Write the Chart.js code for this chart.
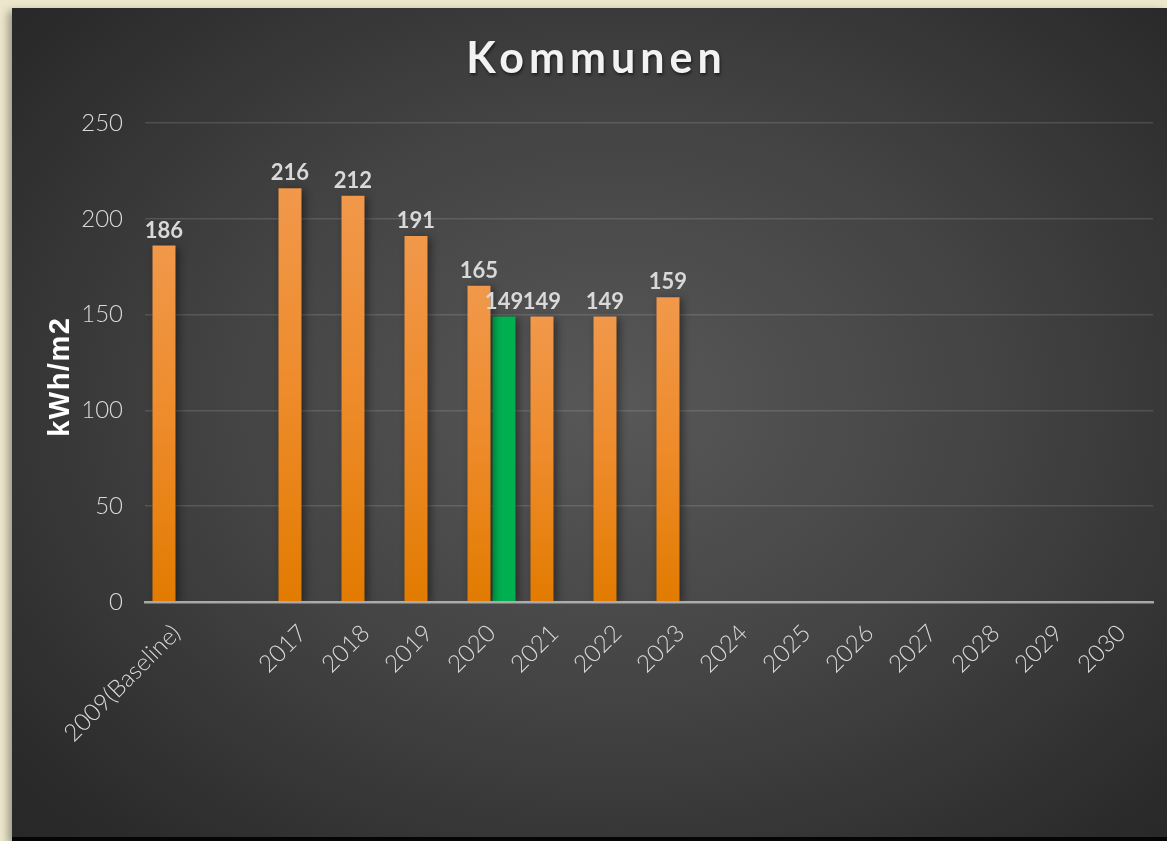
<!DOCTYPE html>
<html>
<head>
<meta charset="utf-8">
<script src="https://cdn.jsdelivr.net/npm/chart.js@4"></script>
<style>
  html, body { margin: 0; padding: 0; }
  body { width: 1167px; height: 841px; background: #ede8cc; overflow: hidden; position: relative; }
  #card {
    position: absolute; left: 12px; top: 8px; width: 1155px; height: 829px;
    background: radial-gradient(ellipse 75% 80% at 52% 48%, #585858 0%, #434343 45%, #2b2b2b 85%, #262626 100%);
    border-bottom: 4px solid #050505;
    box-shadow: -4px 3px 8px rgba(0,0,0,0.35);
  }
  #myChart { display: block; }
</style>
</head>
<body>
<div id="card"><canvas id="myChart" width="1155" height="829"></canvas></div>
<script>
// categories (empty slot between baseline and 2017)
var years = ["2009(Baseline)", "", "2017", "2018", "2019", "2020", "2021", "2022", "2023",
             "2024", "2025", "2026", "2027", "2028", "2029", "2030"];
var kommunen = [186, null, 216, 212, 191, 165, 149, 149, 159, null, null, null, null, null, null, null];
var target = [null, null, null, null, null, 149, null, null, null, null, null, null, null, null, null, null];
var yTicks = [0, 50, 100, 150, 200, 250];
var chartTitle = "Kommunen";
var yTitle = "kWh/m2";

var labelColor = '#d9d9d9';

function orangeFill(c) {
    var chart = c.chart;
    if (!chart.chartArea || !c.parsed || c.parsed.y == null) return '#e88a2e';
    var y = chart.scales.y;
    var top = y.getPixelForValue(c.parsed.y), base = y.getPixelForValue(0);
    var g = chart.ctx.createLinearGradient(0, top, 0, base);
    g.addColorStop(0, '#f1984b');
    g.addColorStop(0.5, '#ee8b2a');
    g.addColorStop(1, '#e27b00');
    return g;
}

// draws spaced text centred on x (letterSpacing adds a trailing gap, take it off)
function spacedText(ctx, txt, x, y, spacing) {
    ctx.letterSpacing = spacing + 'px';
    var w = ctx.measureText(txt).width - spacing;
    ctx.textAlign = 'left';
    ctx.fillText(txt, x - w / 2, y);
    ctx.letterSpacing = '0px';
}

var barBits = {
    id: 'barBits',
    beforeDatasetsDraw: function(chart) {
        var ctx = chart.ctx;
        ctx.save();
        ctx.shadowColor = 'rgba(0,0,0,0.45)';
        ctx.shadowBlur = 8;
        ctx.shadowOffsetX = 3;
        ctx.shadowOffsetY = 2;
    },
    afterDatasetsDraw: function(chart) {
        var ctx = chart.ctx;
        ctx.restore();
        ctx.save();
        ctx.font = 'bold 22px Lato, "DejaVu Sans", sans-serif';
        ctx.fillStyle = labelColor;
        ctx.textAlign = 'center';
        ctx.textBaseline = 'alphabetic';
        chart.data.datasets.forEach(function(ds, i) {
            var meta = chart.getDatasetMeta(i);
            meta.data.forEach(function(bar, j) {
                var v = ds.data[j];
                if (v == null) return;
                ctx.fillText(String(v), bar.x, bar.y - 8);
            });
        });
        ctx.restore();
    },
    afterDraw: function(chart) {
        var ctx = chart.ctx;
        var area = chart.chartArea;
        // chart title
        ctx.save();
        ctx.font = 'bold 43px Lato, "DejaVu Sans", sans-serif';
        ctx.fillStyle = '#f2f2f2';
        ctx.textBaseline = 'alphabetic';
        ctx.shadowColor = 'rgba(0,0,0,0.55)';
        ctx.shadowBlur = 3;
        ctx.shadowOffsetX = 1;
        ctx.shadowOffsetY = 2;
        spacedText(ctx, chartTitle, 582, 65, 5);
        ctx.restore();
        // y axis title
        ctx.save();
        ctx.translate(49, (area.top + area.bottom) / 2 + 15);
        ctx.rotate(-Math.PI / 2);
        ctx.font = 'bold 29px "Liberation Sans", Arial, sans-serif';
        ctx.fillStyle = '#ffffff';
        ctx.textBaseline = 'middle';
        spacedText(ctx, yTitle, 0, 0, 1.5);
        ctx.restore();
    }
};

var ctx = document.getElementById("myChart").getContext("2d");
var chart = new Chart(ctx, {
    type: 'bar',
    data: {
        labels: years,
        datasets: [{
            label: "Kommunen",
            data: kommunen,
            backgroundColor: orangeFill,
            categoryPercentage: 0.794,
            barPercentage: 0.92
        }, {
            label: "Mål",
            data: target,
            backgroundColor: '#00b050',
            categoryPercentage: 0.794,
            barPercentage: 0.92
        }]
    },
    options: {
        responsive: false,
        animation: false,
        layout: { padding: { top: 115, right: 14, bottom: 0, left: 0 } },
        plugins: {
            legend: { display: false },
            tooltip: { enabled: false },
            title: { display: false }
        },
        scales: {
            x: {
                grid: { display: false, drawTicks: false },
                border: { display: true, color: 'rgba(200,200,200,0.75)', width: 2.5, z: 1 },
                ticks: {
                    color: labelColor,
                    font: { family: 'Lato, "DejaVu Sans", sans-serif', size: 24, weight: 300 },
                    minRotation: 45,
                    maxRotation: 45,
                    autoSkip: false,
                    padding: 17
                },
                afterFit: function(s) { s.height = 235; }
            },
            y: {
                min: 0,
                max: 250,
                afterBuildTicks: function(s) { s.ticks = yTicks.map(function(v) { return { value: v }; }); },
                grid: { color: 'rgba(255,255,255,0.13)', lineWidth: 1.5, drawTicks: false },
                border: { display: false },
                ticks: {
                    color: labelColor,
                    font: { family: 'Lato, "DejaVu Sans", sans-serif', size: 24, weight: 300 },
                    padding: 22
                },
                afterFit: function(s) { s.width = 133; }
            }
        }
    },
    plugins: [barBits]
});
</script>
</body>
</html>
